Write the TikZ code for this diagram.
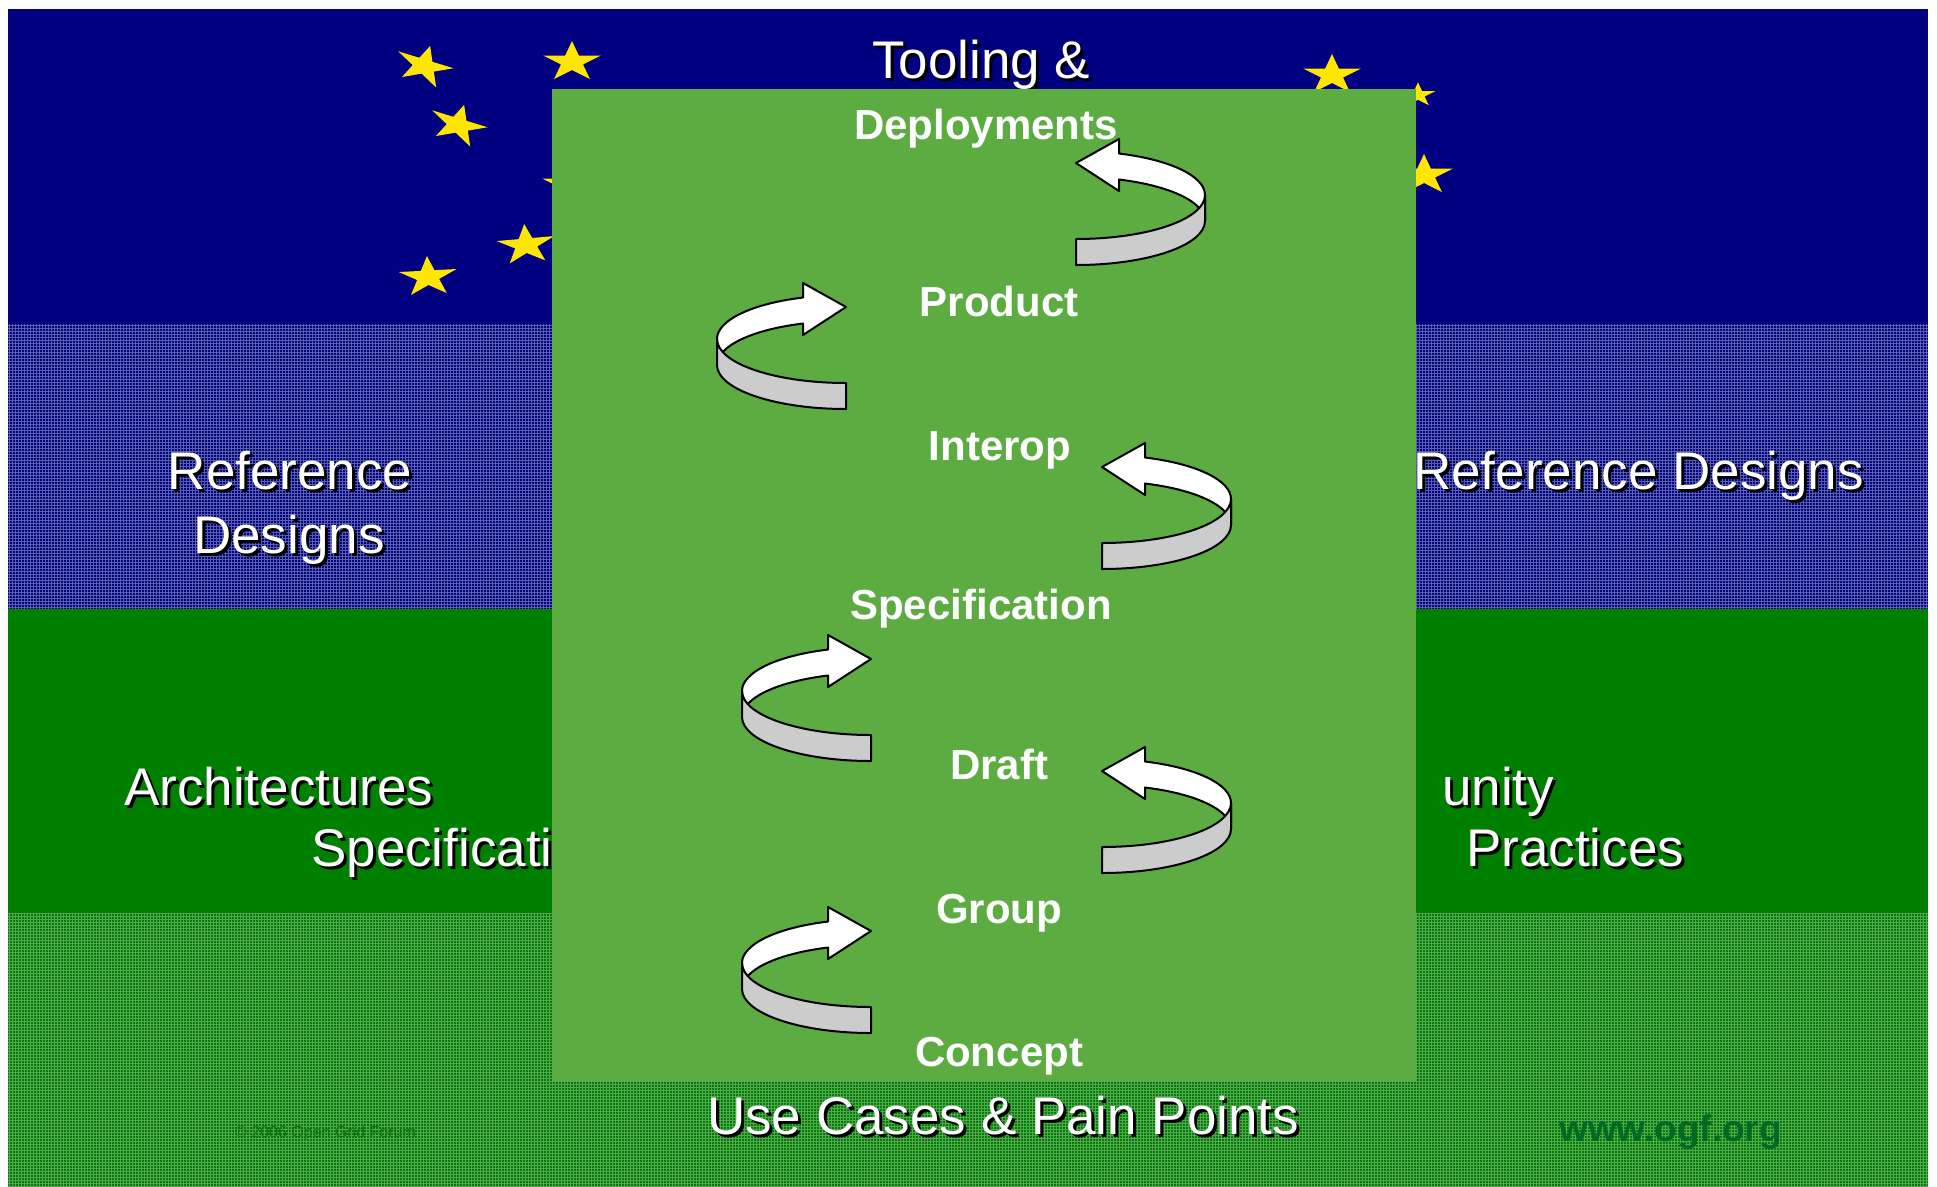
\documentclass[tikz,border=0pt]{standalone}
\usepackage{fontspec}
\setmainfont{Liberation Sans}
\usetikzlibrary{patterns}
\definecolor{navy}{RGB}{0,0,128}
\definecolor{navypat}{RGB}{86,95,168}
\definecolor{bandgreen}{RGB}{0,128,0}
\definecolor{greenpat}{RGB}{85,165,85}
\definecolor{boxgreen}{RGB}{93,172,66}
\definecolor{staryellow}{RGB}{255,230,0}
\definecolor{ribbongray}{RGB}{204,204,204}
\definecolor{copygreen}{RGB}{20,112,20}
\definecolor{urlgreen}{RGB}{0,105,35}
\tikzset{
  bigtext/.style={font=\fontsize{53}{64}\selectfont, text=white, inner sep=0pt},
  bigshadow/.style={bigtext, text=black},
  stagelabel/.style={font=\fontsize{42}{50}\selectfont\bfseries, text=white, inner sep=0pt, anchor=base},
  ribbonline/.style={draw=black, line width=2pt, line join=round},
  pics/ribbon/.style={code={
    % far part (white, front face) with arrow head
    \draw[ribbonline, fill=white] (250.53:129 and 44)
      arc[start angle=250.53, end angle=180, x radius=129, y radius=44]
      -- ++(0,26)
      arc[start angle=180, end angle=250.53, x radius=129, y radius=44]
      -- (-43,-4) -- (0,-32) -- (-43,-56) -- cycle;
    % near part (grey, back face)
    \draw[ribbonline, fill=ribbongray] (-129,0)
      arc[start angle=180, end angle=90, x radius=129, y radius=44]
      -- ++(0,26)
      arc[start angle=90, end angle=180, x radius=129, y radius=44] -- cycle;
  }},
  pics/estar/.style={code={
    \fill[staryellow] (-90:21) -- (-54:8) -- (-18:21) -- (18:8) -- (54:21) -- (90:8)
      -- (126:21) -- (162:8) -- (198:21) -- (234:8) -- cycle;
  }}
}
\begin{document}
\begin{tikzpicture}[x=1pt,y=-1pt]
\useasboundingbox (0,0) rectangle (1937,1186);
\fill[white] (0,0) rectangle (1937,1186);
% background bands
\fill[navy] (8,9) rectangle (1928,324);
\fill[navy] (8,324) rectangle (1928,609);
\fill[pattern=grid, pattern color=navypat] (8,324) rectangle (1928,609);
\fill[bandgreen] (8,609) rectangle (1928,913);
\fill[bandgreen] (8,913) rectangle (1928,1186);
\fill[pattern=grid, pattern color=greenpat] (8,913) rectangle (1928,1186);
% stars
\pic[rotate=-17, xscale=1.45] at (424,66) {estar};
\pic[xscale=1.45] at (572,62) {estar};
\pic[rotate=-17, xscale=1.45] at (458,125) {estar};
\pic[xscale=1.45] at (571,185) {estar};
\pic[rotate=5, xscale=1.45] at (526,245) {estar};
\pic[rotate=3, xscale=1.45] at (428,277) {estar};
\pic[xscale=1.45] at (1332,75) {estar};
\pic[scale=0.6, xscale=1.45] at (1418,95) {estar};
\pic[xscale=1.45] at (1424,175) {estar};
% background texts (with drop shadow)
\node[bigshadow, anchor=base west] (tooling-s) at (875,81) {Tooling \&};
\node[bigtext, anchor=base west] (tooling) at (872,78) {Tooling \&};
\node[bigshadow, anchor=base] (refL1-s) at (293,492) {Reference};
\node[bigtext, anchor=base] (refL1) at (290,489) {Reference};
\node[bigshadow, anchor=base] (refL2-s) at (292,556) {Designs};
\node[bigtext, anchor=base] (refL2) at (289,553) {Designs};
\node[bigshadow, anchor=base west] (refR-s) at (1416,492) {Reference Designs};
\node[bigtext, anchor=base west] (refR) at (1413,489) {Reference Designs};
\node[bigshadow, anchor=base west] (arch-s) at (127,808) {Architectures};
\node[bigtext, anchor=base west] (arch) at (124,805) {Architectures};
\node[bigshadow, anchor=base west] (spec-s) at (314,869) {Specificati};
\node[bigtext, anchor=base west] (spec) at (311,866) {Specificati};
\node[bigshadow, anchor=base west] (comm-s) at (1445,808) {unity};
\node[bigtext, anchor=base west] (comm) at (1442,805) {unity};
\node[bigshadow, anchor=base west] (prac-s) at (1469,869) {Practices};
\node[bigtext, anchor=base west] (prac) at (1466,866) {Practices};
\node[bigshadow, anchor=base west] (use-s) at (710,1137) {Use Cases \& Pain Points};
\node[bigtext, anchor=base west] (use) at (707,1134) {Use Cases \& Pain Points};
\node[font=\fontsize{16}{19}\selectfont, text=copygreen, inner sep=0pt, anchor=base west] (copy) at (235,1137) {© 2006 Open Grid Forum};
\node[font=\fontsize{37}{44}\selectfont\bfseries, text=urlgreen, inner sep=0pt, anchor=base west] (url) at (1559,1141) {www.ogf.org};
% central box
\node[fill=boxgreen, draw=none, inner sep=0pt, minimum width=864pt, minimum height=992pt, anchor=north west] (stagebox) at (552,89) {};
% stage labels
\node[stagelabel] (deploy) at (986,139) {Deployments};
\node[stagelabel] (product) at (999,316) {Product};
\node[stagelabel] (interop) at (1000,460) {Interop};
\node[stagelabel] (specif) at (981,619) {Specification};
\node[stagelabel] (draft) at (999,779) {Draft};
\node[stagelabel] (group) at (999,923) {Group};
\node[stagelabel] (concept) at (999,1066) {Concept};
% curved ribbon arrows
\pic[xscale=-1] at (1076,195) {ribbon};
\pic at (846,339) {ribbon};
\pic[xscale=-1] at (1102,499) {ribbon};
\pic at (871,691) {ribbon};
\pic[xscale=-1] at (1102,803) {ribbon};
\pic at (871,963) {ribbon};
\end{tikzpicture}
\end{document}
